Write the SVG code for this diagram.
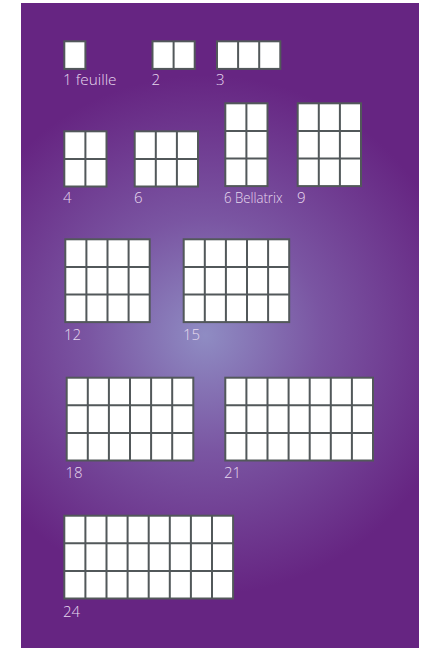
<svg xmlns="http://www.w3.org/2000/svg" width="421" height="648" viewBox="0 0 421 648">
<style>
.b{fill:#fff;stroke:#52585a;stroke-width:2}
.g{fill:none;stroke:#52585a;stroke-width:2}
.t{font-family:"Open Sans","Liberation Sans",sans-serif;font-weight:300;font-size:15px;fill:#e6d8ee}
</style>
<defs>
<radialGradient id="bg" gradientUnits="userSpaceOnUse" cx="205" cy="335" r="260">
<stop offset="0" stop-color="#8f8cc3"/>
<stop offset="0.45" stop-color="#7a55a2"/>
<stop offset="1" stop-color="#662582"/>
</radialGradient>
</defs>
<rect x="21" y="3" width="398" height="645" fill="url(#bg)"/>
<g id="n1"><rect class="b" x="64.3" y="41.3" width="21.1" height="27.6"/><text class="t" x="63" y="85" textLength="53.5" lengthAdjust="spacingAndGlyphs">1 feuille</text></g>
<g id="n2"><rect class="b" x="152.5" y="41.3" width="42.2" height="27.6"/><path class="g" d="M173.6 41.3v27.6"/><text class="t" x="151.5" y="85">2</text></g>
<g id="n3"><rect class="b" x="217" y="41.3" width="63.3" height="27.6"/><path class="g" d="M238.1 41.3v27.6M259.2 41.3v27.6"/><text class="t" x="216" y="85">3</text></g>
<g id="n4"><rect class="b" x="64.3" y="131.3" width="42.2" height="55.2"/><path class="g" d="M85.4 131.3v55.2M64.3 158.9h42.2"/><text class="t" x="63" y="203">4</text></g>
<g id="n6"><rect class="b" x="134.7" y="131.3" width="63.3" height="55.2"/><path class="g" d="M155.8 131.3v55.2M176.9 131.3v55.2M134.7 158.9h63.3"/><text class="t" x="134" y="203">6</text></g>
<g id="n6b"><rect class="b" x="225.3" y="103.3" width="42.2" height="82.8"/><path class="g" d="M246.4 103.3v82.8M225.3 130.9h42.2M225.3 158.5h42.2"/><text class="t" x="224" y="203" textLength="58.5" lengthAdjust="spacingAndGlyphs">6 Bellatrix</text></g>
<g id="n9"><rect class="b" x="297.7" y="103.3" width="63.3" height="82.8"/><path class="g" d="M318.8 103.3v82.8M339.9 103.3v82.8M297.7 130.9h63.3M297.7 158.5h63.3"/><text class="t" x="297" y="203">9</text></g>
<g id="n12"><rect class="b" x="65.3" y="239.3" width="84.4" height="82.8"/><path class="g" d="M86.4 239.3v82.8M107.5 239.3v82.8M128.6 239.3v82.8M65.3 266.9h84.4M65.3 294.5h84.4"/><text class="t" x="64" y="340">12</text></g>
<g id="n15"><rect class="b" x="183.7" y="239.3" width="105.5" height="82.8"/><path class="g" d="M204.8 239.3v82.8M225.9 239.3v82.8M247 239.3v82.8M268.1 239.3v82.8M183.7 266.9h105.5M183.7 294.5h105.5"/><text class="t" x="183" y="340">15</text></g>
<g id="n18"><rect class="b" x="66.7" y="377.7" width="126.6" height="82.8"/><path class="g" d="M87.8 377.7v82.8M108.9 377.7v82.8M130 377.7v82.8M151.1 377.7v82.8M172.2 377.7v82.8M66.7 405.3h126.6M66.7 432.9h126.6"/><text class="t" x="65.5" y="478">18</text></g>
<g id="n21"><rect class="b" x="225.3" y="377.7" width="147.7" height="82.8"/><path class="g" d="M246.4 377.7v82.8M267.5 377.7v82.8M288.6 377.7v82.8M309.7 377.7v82.8M330.8 377.7v82.8M351.9 377.7v82.8M225.3 405.3h147.7M225.3 432.9h147.7"/><text class="t" x="224" y="478">21</text></g>
<g id="n24"><rect class="b" x="64.3" y="515.7" width="168.8" height="82.8"/><path class="g" d="M85.4 515.7v82.8M106.5 515.7v82.8M127.6 515.7v82.8M148.7 515.7v82.8M169.8 515.7v82.8M190.9 515.7v82.8M212 515.7v82.8M64.3 543.3h168.8M64.3 570.9h168.8"/><text class="t" x="63" y="617">24</text></g>
<g id="connectors"/>
</svg>
